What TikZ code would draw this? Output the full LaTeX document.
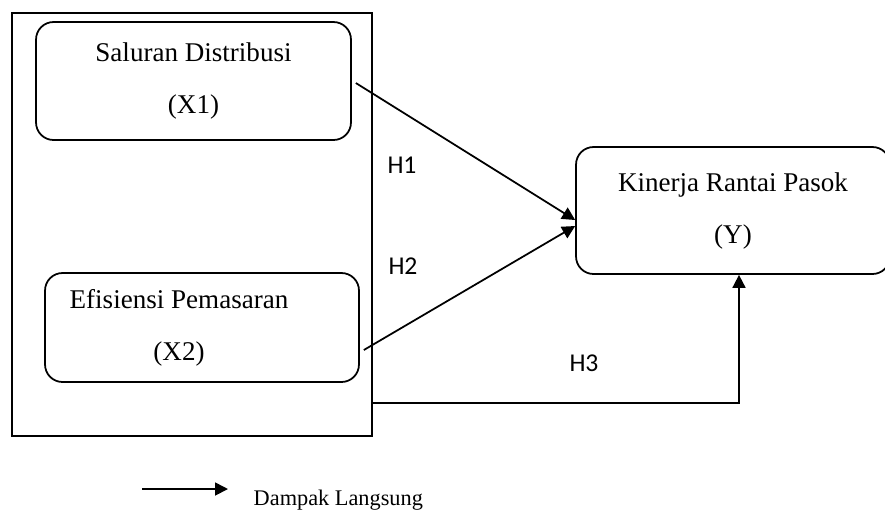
\documentclass[tikz,border=0pt]{standalone}
\usepackage{fontspec}
\setmainfont{Liberation Serif}
\newfontfamily\hypfont{Carlito}
\usetikzlibrary{calc,arrows.meta}

\begin{document}
\begin{tikzpicture}[
    x=0.02cm, y=-0.02cm,
    line width=1pt,
    every node/.style={font=\fontsize{15.4}{29.6}\selectfont},
    var box/.style={draw, rounded corners=0.35cm, align=center, inner sep=0pt},
    hyp label/.style={font=\hypfont\fontsize{14.6}{17}\selectfont},
    effect/.style={-{Triangle[length=0.26cm, width=0.26cm]}}
]
    \clip (0,0) rectangle (885,512);

    \node[draw, minimum width=7.2cm, minimum height=8.46cm] (grp) at (192,224.5) {};
    \node[var box, minimum width=6.3cm, minimum height=2.36cm] (x1) at (193.5,81) {Saluran Distribusi\\(X1)};
    \node[var box, minimum width=6.28cm, minimum height=2.18cm,
          label={[align=center, xshift=-0.46cm]center:Efisiensi Pemasaran\\(X2)}] (x2) at (202,327.5) {};
    \node[var box, minimum width=6.28cm, minimum height=2.54cm] (y) at (733,210.5) {Kinerja Rantai Pasok\\(Y)};

    \node[hyp label] (h1) at (402,165) {H1};
    \node[hyp label] (h2) at (403,266) {H2};
    \node[hyp label] (h3) at (584,363) {H3};

    \draw[effect] ($(x1.east)+(4,2)$) -- ($(y.west)+(0,9.5)$);
    \draw[effect] ($(x2.east)+(4,22.5)$) -- ($(y.west)+(0,15.5)$);
    \draw[effect] ($(grp.south east)+(0,-34)$) -| ($(y.south)+(6,0)$);

    % legend
    \coordinate (key start) at (142,489);
    \coordinate (key end) at (228,489);
    \draw[effect] (key start) -- (key end);
    \node[anchor=base west, font=\fontsize{12.7}{15}\selectfont] (key) at (247,505) {Dampak Langsung};
\end{tikzpicture}
\end{document}
